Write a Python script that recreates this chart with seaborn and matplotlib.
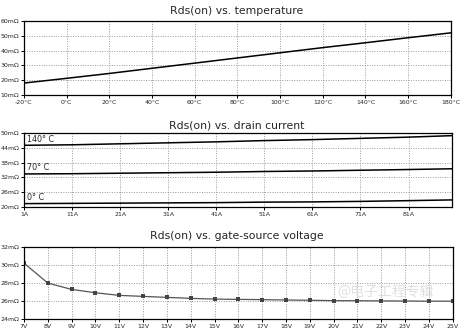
import numpy as np
import pandas as pd
import matplotlib
matplotlib.use("Agg")
import matplotlib.pyplot as plt
import seaborn as sns

# ---- data ----
temp_c = [-20, 0, 20, 40, 60, 80, 100, 120, 140, 160, 180]
rds_temp = [18.0, 21.2, 24.5, 28.0, 31.5, 35.0, 38.5, 42.0, 45.3, 48.7, 52.0]

current_a = [1, 11, 21, 31, 41, 51, 61, 71, 81, 90]
rds_140c = [45.0, 45.2, 45.6, 46.0, 46.4, 46.9, 47.3, 47.8, 48.3, 48.9]
rds_70c = [33.4, 33.5, 33.7, 33.9, 34.1, 34.4, 34.6, 34.9, 35.2, 35.5]
rds_0c = [21.4, 21.5, 21.6, 21.7, 21.8, 22.0, 22.1, 22.3, 22.6, 22.9]
series_labels = ["140° C", "70° C", "0° C"]

vgs_v = [7, 8, 9, 10, 11, 12, 13, 14, 15, 16, 17, 18, 19, 20, 21, 22, 23, 24, 25]
rds_vgs = [30.2, 28.0, 27.3, 26.93, 26.64, 26.53, 26.42, 26.31, 26.23, 26.2,
           26.17, 26.13, 26.1, 26.06, 26.05, 26.03, 26.02, 26.0, 26.0]

titles = ["Rds(on) vs. temperature", "Rds(on) vs. drain current",
          "Rds(on) vs. gate-source voltage"]

sns.set_style("white")
plt.rcParams['font.family'] = ['DejaVu Sans']

fig = plt.figure(figsize=(4.64, 3.34), dpi=100)
ax1 = fig.add_axes([0.0517, 0.716, 0.920, 0.221])
ax2 = fig.add_axes([0.0517, 0.380, 0.922, 0.222])
ax3 = fig.add_axes([0.0517, 0.044, 0.924, 0.217])

tick_fs = 4.5
title_fs = 7.8

def style(ax):
    for s in ax.spines.values():
        s.set_color("black")
        s.set_linewidth(0.9)
    ax.grid(True, color="#999999", linestyle=(0, (1, 1.5)), linewidth=0.7)
    ax.tick_params(axis="both", which="major", direction="out", length=2.5,
                   width=0.7, labelsize=tick_fs, pad=1, color="black",
                   bottom=True, left=True)
    ax.set_xlabel("")
    ax.set_ylabel("")

# panel 1
df1 = pd.DataFrame({"t": temp_c, "r": rds_temp})
sns.lineplot(data=df1, x="t", y="r", ax=ax1, color="black", linewidth=1.1)
ax1.set_xlim(-20, 180)
ax1.set_ylim(10, 60)
ax1.set_xticks(temp_c)
ax1.set_xticklabels([f"{t}°C" for t in temp_c])
ax1.set_yticks([10, 20, 30, 40, 50, 60])
ax1.set_yticklabels([f"{v}mΩ" for v in [10, 20, 30, 40, 50, 60]])
style(ax1)
fig.text(0.511, 0.968, titles[0], ha="center", va="center", fontsize=title_fs)

# panel 2
df2 = pd.DataFrame({
    "i": current_a * 3,
    "r": rds_140c + rds_70c + rds_0c,
    "s": [series_labels[0]] * len(current_a) + [series_labels[1]] * len(current_a)
         + [series_labels[2]] * len(current_a),
})
sns.lineplot(data=df2, x="i", y="r", hue="s",
             palette=["black", "black", "black"], ax=ax2, linewidth=1.1, legend=False)
ax2.set_xlim(1, 90)
ax2.set_ylim(20, 50)
xt2 = [1, 11, 21, 31, 41, 51, 61, 71, 81]
ax2.set_xticks(xt2)
ax2.set_xticklabels([f"{v}A" for v in xt2])
yt2 = [20, 26, 32, 38, 44, 50]
ax2.set_yticks(yt2)
ax2.set_yticklabels([f"{v}mΩ" for v in yt2])
style(ax2)
for lab, vals in zip(series_labels, [rds_140c, rds_70c, rds_0c]):
    ax2.text(current_a[0] + 0.6, vals[0] + 0.6, lab, fontsize=5.8,
             ha="left", va="bottom")
fig.text(0.511, 0.625, titles[1], ha="center", va="center", fontsize=title_fs)

# panel 3
df3 = pd.DataFrame({"v": vgs_v, "r": rds_vgs})
sns.lineplot(data=df3, x="v", y="r", ax=ax3, color="#555555", linewidth=0.9,
             marker="s", markersize=2.6, markeredgewidth=0, markerfacecolor="#444444")
ax3.set_xlim(7, 25)
ax3.set_ylim(24, 32)
ax3.set_xticks(vgs_v)
ax3.set_xticklabels([f"{v}V" for v in vgs_v])
yt3 = [24, 26, 28, 30, 32]
ax3.set_yticks(yt3)
ax3.set_yticklabels([f"{v}mΩ" for v in yt3])
style(ax3)
fig.text(0.511, 0.293, titles[2], ha="center", va="center", fontsize=title_fs)

fig.text(0.83, 0.125, "@电子工程专辑", ha="center", va="center", fontsize=10,
         color="#d8d8d8", alpha=0.8, family=["Noto Sans CJK SC", "DejaVu Sans"])

fig.savefig("out.png", dpi=100)
